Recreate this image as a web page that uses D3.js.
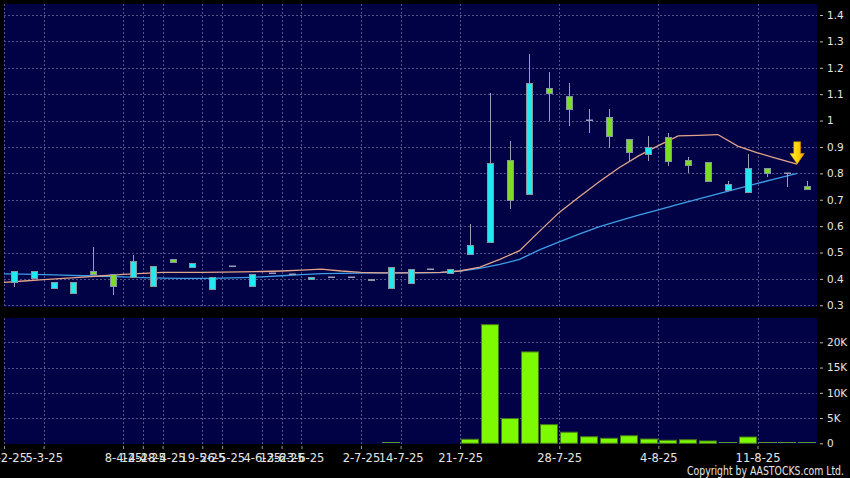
<!DOCTYPE html>
<html><head><meta charset="utf-8">
<script src="https://cdn.jsdelivr.net/npm/d3@7"></script>
<style>body{margin:0;background:#000;}svg{display:block;}</style>
</head><body>
<svg id="c" width="850" height="478"></svg>
<script>
// ---------- data ----------
const dates = ["24-2-25","26-2-25","5-3-25","6-3-25","7-3-25","12-3-25","8-4-25","14-4-25","28-4-25","30-4-25",
  "19-5-25","26-5-25","28-5-25","4-6-25","13-6-25","23-6-25","24-6-25","26-6-25","2-7-25","4-7-25",
  "14-7-25","16-7-25","18-7-25","21-7-25","22-7-25","23-7-25","24-7-25","25-7-25","28-7-25","29-7-25",
  "30-7-25","31-7-25","1-8-25","4-8-25","5-8-25","6-8-25","7-8-25","8-8-25","11-8-25","12-8-25","13-8-25"];
const openP  = [0.39,0.405,0.367,0.345,0.43,0.42,0.408,0.375,0.475,0.446,0.361,0.448,0.374,0.421,0.417,0.398,0.406,0.406,0.396,0.367,0.386,0.436,0.421,
  0.495,0.539,0.849,0.72,1.122,1.092,1.002,1.012,0.929,0.873,0.939,0.85,0.842,0.738,0.728,0.819,0.80,0.752];
const highP  = [0.43,0.43,0.387,0.388,0.52,0.42,0.49,0.448,0.475,0.459,0.406,0.448,0.42,0.421,0.417,0.406,0.406,0.406,0.401,0.444,0.436,0.436,0.436,
  0.608,1.103,0.923,1.252,1.185,1.144,1.045,1.045,0.929,0.941,0.954,0.861,0.842,0.77,0.873,0.819,0.80,0.771];
const lowP   = [0.37,0.405,0.367,0.345,0.42,0.34,0.408,0.375,0.463,0.446,0.361,0.448,0.374,0.421,0.417,0.398,0.406,0.406,0.396,0.367,0.386,0.436,0.421,
  0.494,0.539,0.666,0.72,0.999,0.979,0.952,0.897,0.848,0.848,0.828,0.80,0.77,0.738,0.728,0.787,0.749,0.74];
const closeP = [0.43,0.43,0.387,0.388,0.42,0.375,0.468,0.448,0.463,0.459,0.406,0.448,0.42,0.421,0.417,0.406,0.406,0.406,0.401,0.444,0.436,0.436,0.436,
  0.528,0.84,0.698,1.141,1.103,1.043,1.002,0.94,0.88,0.899,0.848,0.831,0.77,0.759,0.819,0.80,0.80,0.74];
const volume = [40,30,60,50,20,80,60,70,20,30,50,10,40,10,10,30,10,10,20,250,60,10,80,
  800,23500,4900,18100,3700,2200,1300,1000,1500,850,600,700,460,260,1250,250,200,150];
const ma10 = [0.387,0.392,0.397,0.402,0.407,0.412,0.417,0.421,0.425,0.425,0.425,0.426,0.427,0.428,0.430,0.433,0.437,0.430,0.425,0.423,0.423,0.424,0.425,
  0.43,0.445,0.474,0.507,0.58,0.652,0.71,0.767,0.82,0.866,0.905,0.942,0.944,0.947,0.903,0.878,0.856,0.835];
const ma20 = [0.419,0.418,0.416,0.414,0.412,0.41,0.408,0.405,0.403,0.402,0.402,0.403,0.405,0.408,0.412,0.416,0.42,0.421,0.422,0.423,0.423,0.423,0.424,
  0.43,0.44,0.455,0.474,0.51,0.54,0.57,0.597,0.62,0.642,0.662,0.682,0.702,0.722,0.742,0.762,0.781,0.80];
const tickIdx = [0,2,6,7,8,10,11,13,14,15,18,20,23,28,33,38];
const tickLabels = ["24-2-25","5-3-25","8-4-25","14-4-25","28-4-25","19-5-25","26-5-25","4-6-25","13-6-25","23-6-25","2-7-25","14-7-25","21-7-25","28-7-25","4-8-25","11-8-25"];
const priceTicks = [0.3,0.4,0.5,0.6,0.7,0.8,0.9,1.0,1.1,1.2,1.3,1.4];
const volTicks = [0,5000,10000,15000,20000];
const volTickLabels = ["0","5K","10K","15K","20K"];

// ---------- layout ----------
const PL=4, PR=817, MT=4, MB=307, VT=318, VB=444;
const NAVY="#010146", GRID="#53538c", TXT="#e6e6e6";
const svg = d3.select("#c");
const n = dates.length;
const x = d3.scaleBand().domain(d3.range(n)).range([PL,PR]).padding(0);
const xe = d3.scaleLinear().domain([0,n]).range([PL,PR]);
const y = d3.scaleLinear().domain([0.3,1.4]).range([305.3,15]);
const yv = d3.scaleLinear().domain([0,20000]).range([443.3,342.3]);

svg.append("rect").attr("width",850).attr("height",478).attr("fill","#000");
svg.append("rect").attr("x",PL).attr("y",MT).attr("width",PR-PL).attr("height",MB-MT).attr("fill",NAVY);
svg.append("rect").attr("x",PL).attr("y",VT).attr("width",PR-PL).attr("height",VB-VT).attr("fill",NAVY);

const defs = svg.append("defs");
defs.append("clipPath").attr("id","clipM").append("rect").attr("x",PL).attr("y",MT).attr("width",PR-PL).attr("height",MB-MT);
const grad = defs.append("linearGradient").attr("id","arrowG").attr("x1","0").attr("x2","1").attr("y1","0").attr("y2","0");
grad.append("stop").attr("offset","0").attr("stop-color","#fff64a");
grad.append("stop").attr("offset","0.55").attr("stop-color","#ffd200");
grad.append("stop").attr("offset","1").attr("stop-color","#f59a00");

// grid
const g = svg.append("g").attr("stroke",GRID).attr("stroke-width",1).attr("stroke-dasharray","2,2").attr("fill","none");
priceTicks.forEach(v=>{const yy=Math.round(y(v))+0.5;
  g.append("line").attr("x1",PL).attr("x2",PR).attr("y1",yy).attr("y2",yy);});
volTicks.slice(1).forEach(v=>{const yy=Math.round(yv(v))+0.5;
  g.append("line").attr("x1",PL).attr("x2",PR).attr("y1",yy).attr("y2",yy);});
tickIdx.forEach(i=>{const xx=Math.round(xe(i))+0.5;
  g.append("line").attr("x1",xx).attr("x2",xx).attr("y1",MT).attr("y2",MB);
  g.append("line").attr("x1",xx).attr("x2",xx).attr("y1",VT).attr("y2",VB);});

// moving averages (plotted at slot start)
const line = d3.line().x((d,i)=>xe(i)).y(d=>y(d));
const ml = svg.append("g").attr("clip-path","url(#clipM)").attr("fill","none");
ml.append("path").attr("d",line(ma20)).attr("stroke","#3d9fe8").attr("stroke-width",1.3);
ml.append("path").attr("d",line(ma10)).attr("stroke","#e3a58a").attr("stroke-width",1.3);

// candles
const UP="#22e8f2", DN="#7fdc26", EDGE="#8797a0", WICK="#9c9cb4";
const cg = svg.append("g");
d3.range(n).forEach(i=>{
  const cx = Math.round(x(i)+x.bandwidth()/2)+0.5;
  const o=openP[i], c=closeP[i], h=highP[i], l=lowP[i];
  if (y(l)-y(h) > 0.5)
    cg.append("line").attr("x1",cx).attr("x2",cx).attr("y1",Math.round(y(h))).attr("y2",Math.round(y(l)))
      .attr("stroke",WICK).attr("stroke-width",1);
  const top = Math.round(y(Math.max(o,c))), bot = Math.round(y(Math.min(o,c)));
  if (bot-top < 1) {
    cg.append("rect").attr("x",cx-3.5).attr("y",top-0.5).attr("width",7).attr("height",1.5).attr("fill",WICK);
  } else {
    cg.append("rect").attr("x",cx-3).attr("y",top+0.5).attr("width",6).attr("height",bot-top)
      .attr("fill", c>=o?UP:DN).attr("stroke",EDGE).attr("stroke-width",1);
  }
});

// volume bars (bars thinner than half a pixel are not visible)
const vg = svg.append("g");
d3.range(n).forEach(i=>{
  const hgt = yv(0)-yv(volume[i]);
  if (hgt < 0.5) return;
  const x0 = Math.round(x(i))+1.5, w = Math.round(x.bandwidth())-3;
  if (hgt < 2) {
    vg.append("rect").attr("x",x0-0.5).attr("y",Math.round(yv(0))-1).attr("width",w+1).attr("height",1)
      .attr("fill","#5a9a20");
    return;
  }
  vg.append("rect").attr("x",x0).attr("y",yv(volume[i])).attr("width",w)
    .attr("height",hgt).attr("fill","#7dfa00").attr("stroke","#43781a").attr("stroke-width",1);
});

// arrow at last short MA point
const tx = xe(n-1), ty = y(ma10[n-1]);
svg.append("path").attr("d",`M${tx-3.4},${ty-22.3}L${tx+3.4},${ty-22.3}L${tx+3.4},${ty-10.7}L${tx+7.2},${ty-10.7}L${tx},${ty}L${tx-7.2},${ty-10.7}L${tx-3.4},${ty-10.7}Z`)
  .attr("fill","url(#arrowG)").attr("stroke","#d98a00").attr("stroke-width",0.6);

// axes
const fmtP = v => String(+v.toFixed(1));
const ay = svg.append("g").attr("transform","translate(820,0)")
  .call(d3.axisRight(y).tickValues(priceTicks).tickFormat(fmtP).tickSize(3).tickPadding(4));
const av = svg.append("g").attr("transform","translate(820,0)")
  .call(d3.axisRight(yv).tickValues(volTicks).tickFormat((d,i)=>volTickLabels[i]).tickSize(3).tickPadding(4));
[ay,av].forEach(a=>{a.select(".domain").remove();
  a.selectAll("line").attr("stroke","#bbbbbb");
  a.selectAll("text").attr("fill",TXT).attr("font-family","DejaVu Sans, sans-serif").attr("font-size",10.5);});
const ax = svg.append("g").attr("transform","translate(0,446)")
  .call(d3.axisBottom(xe).tickValues(tickIdx).tickFormat((d,i)=>tickLabels[i]).tickSize(3).tickPadding(0));
ax.select(".domain").remove();
ax.selectAll("line").attr("stroke","#9a9a9a");
ax.selectAll("text").attr("y",15.5).attr("dy",0).attr("fill",TXT)
  .attr("font-family","DejaVu Sans, sans-serif").attr("font-size",11.5);

svg.append("text").attr("x",687).attr("y",475).attr("textLength",157).attr("lengthAdjust","spacingAndGlyphs")
  .attr("fill",TXT).attr("font-family","Liberation Sans Narrow, DejaVu Sans Condensed, sans-serif").attr("font-size",12)
  .text("Copyright by AASTOCKS.com Ltd.");
</script>
</body></html>
